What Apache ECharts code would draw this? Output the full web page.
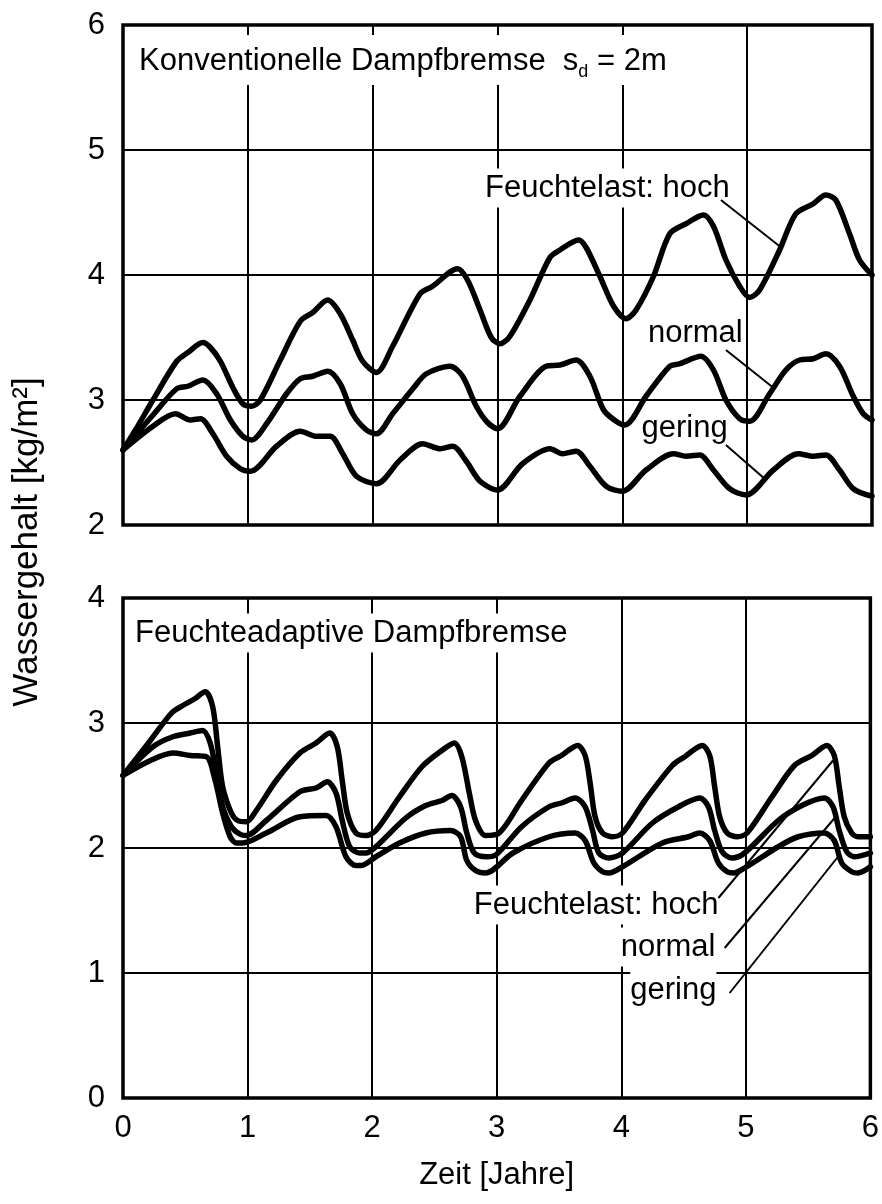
<!DOCTYPE html>
<html>
<head>
<meta charset="utf-8">
<script src="https://cdn.jsdelivr.net/npm/echarts@6/dist/echarts.min.js"></script>
<style>
  html, body { margin: 0; padding: 0; background: #fff; }
  #chart { width: 882px; height: 1204px; }
</style>
</head>
<body>
<div id="chart"></div>
<script>
// Wassergehalt über die Zeit, zwei Dampfbremsen, je drei Feuchtelasten
const FONT = '"Liberation Sans", Arial, Helvetica, sans-serif';
const FS = 31;

const xTicks = [0, 1, 2, 3, 4, 5, 6];
const yTicksTop = [2, 3, 4, 5, 6];
const yTicksBottom = [0, 1, 2, 3, 4];

// [Zeit in Jahren, Wassergehalt in kg/m²]
const konvHoch = [
  [0, 2.6], [0.1, 2.76], [0.24, 3.0], [0.43, 3.31], [0.52, 3.38], [0.64, 3.46], [0.7, 3.42],
  [0.78, 3.31], [0.88, 3.1], [0.96, 2.97], [1.03, 2.95], [1.1, 3.0], [1.26, 3.32], [1.42, 3.63],
  [1.52, 3.7], [1.64, 3.8], [1.74, 3.69], [1.84, 3.48], [1.92, 3.31], [2.03, 3.22], [2.16, 3.43],
  [2.38, 3.85], [2.48, 3.91], [2.68, 4.05], [2.76, 3.96], [2.86, 3.72], [2.95, 3.5], [3.02, 3.45],
  [3.1, 3.51], [3.26, 3.8], [3.42, 4.14], [3.5, 4.2], [3.65, 4.28], [3.71, 4.22], [3.82, 3.99],
  [3.93, 3.75], [4.03, 3.65], [4.11, 3.72], [4.25, 3.99], [4.38, 4.33], [4.51, 4.41], [4.65, 4.48],
  [4.73, 4.39], [4.83, 4.12], [4.94, 3.91], [5.02, 3.82], [5.1, 3.88], [5.26, 4.2], [5.39, 4.49],
  [5.53, 4.57], [5.63, 4.64], [5.71, 4.6], [5.82, 4.33], [5.9, 4.12], [6.0, 4.0]
];
const konvNormal = [
  [0, 2.6], [0.24, 2.88], [0.43, 3.09], [0.52, 3.11], [0.64, 3.16], [0.75, 3.05], [0.86, 2.84],
  [0.96, 2.71], [1.03, 2.68], [1.15, 2.81], [1.31, 3.05], [1.42, 3.17], [1.52, 3.19], [1.64, 3.23],
  [1.74, 3.13], [1.84, 2.89], [1.95, 2.76], [2.03, 2.73], [2.16, 2.89], [2.33, 3.1], [2.43, 3.21],
  [2.62, 3.27], [2.72, 3.19], [2.83, 2.95], [2.92, 2.82], [3.0, 2.77], [3.18, 3.03], [3.39, 3.27],
  [3.5, 3.28], [3.63, 3.32], [3.74, 3.19], [3.85, 2.92], [3.95, 2.83], [4.02, 2.8], [4.19, 3.03],
  [4.38, 3.27], [4.46, 3.29], [4.63, 3.35], [4.73, 3.24], [4.83, 3.0], [4.94, 2.85], [5.02, 2.83],
  [5.18, 3.05], [5.31, 3.24], [5.42, 3.32], [5.53, 3.33], [5.63, 3.37], [5.74, 3.27], [5.85, 3.03],
  [5.93, 2.89], [6.0, 2.84]
];
const konvGering = [
  [0, 2.6], [0.24, 2.79], [0.42, 2.89], [0.54, 2.84], [0.62, 2.85], [0.72, 2.73], [0.83, 2.55],
  [0.94, 2.45], [1.02, 2.43], [1.23, 2.63], [1.42, 2.75], [1.55, 2.71], [1.66, 2.71], [1.76, 2.57],
  [1.87, 2.39], [2.03, 2.33], [2.22, 2.52], [2.4, 2.65], [2.54, 2.61], [2.64, 2.63], [2.75, 2.51],
  [2.86, 2.35], [3.0, 2.28], [3.2, 2.49], [3.42, 2.61], [3.52, 2.57], [3.63, 2.59], [3.74, 2.47],
  [3.87, 2.31], [4.0, 2.27], [4.19, 2.44], [4.41, 2.57], [4.51, 2.55], [4.62, 2.56], [4.73, 2.44],
  [4.86, 2.29], [4.99, 2.24], [5.21, 2.44], [5.41, 2.57], [5.53, 2.55], [5.63, 2.56], [5.74, 2.44],
  [5.85, 2.29], [6.0, 2.23]
];

const adaptHoch = [
  [0, 2.58], [0.22, 2.86], [0.39, 3.08], [0.48, 3.14], [0.57, 3.19], [0.66, 3.25], [0.72, 3.13],
  [0.76, 2.81], [0.8, 2.49], [0.87, 2.28], [0.92, 2.22], [0.99, 2.21], [1.07, 2.3], [1.23, 2.54],
  [1.42, 2.76], [1.55, 2.84], [1.66, 2.92], [1.72, 2.81], [1.76, 2.54], [1.8, 2.28], [1.87, 2.12],
  [1.95, 2.1], [2.03, 2.14], [2.22, 2.41], [2.4, 2.65], [2.56, 2.78], [2.66, 2.84], [2.72, 2.73],
  [2.78, 2.44], [2.83, 2.22], [2.91, 2.1], [3.02, 2.12], [3.2, 2.38], [3.42, 2.68], [3.52, 2.74],
  [3.65, 2.82], [3.71, 2.74], [3.75, 2.52], [3.79, 2.25], [3.85, 2.12], [3.93, 2.09], [4.01, 2.12],
  [4.19, 2.38], [4.41, 2.66], [4.51, 2.73], [4.65, 2.82], [4.71, 2.74], [4.75, 2.49], [4.79, 2.25],
  [4.85, 2.12], [4.93, 2.09], [5.01, 2.12], [5.21, 2.41], [5.39, 2.66], [5.53, 2.74], [5.65, 2.82],
  [5.71, 2.74], [5.75, 2.49], [5.79, 2.25], [5.85, 2.12], [5.9, 2.09], [6.0, 2.09]
];
const adaptNormal = [
  [0, 2.58], [0.24, 2.81], [0.4, 2.89], [0.54, 2.92], [0.64, 2.94], [0.7, 2.84], [0.75, 2.6],
  [0.8, 2.33], [0.87, 2.17], [0.94, 2.11], [0.99, 2.1], [1.15, 2.22], [1.42, 2.45], [1.55, 2.48],
  [1.64, 2.53], [1.71, 2.44], [1.76, 2.22], [1.82, 2.01], [1.9, 1.96], [1.95, 1.96], [2.03, 2.01],
  [2.27, 2.24], [2.43, 2.34], [2.56, 2.38], [2.64, 2.42], [2.71, 2.33], [2.76, 2.12], [2.82, 1.96],
  [2.92, 1.93], [3.0, 1.95], [3.2, 2.17], [3.42, 2.33], [3.52, 2.36], [3.63, 2.4], [3.71, 2.33],
  [3.77, 2.14], [3.82, 1.96], [3.9, 1.92], [4.01, 1.96], [4.25, 2.2], [4.46, 2.33], [4.63, 2.4],
  [4.7, 2.33], [4.75, 2.14], [4.81, 1.97], [4.89, 1.92], [4.99, 1.96], [5.26, 2.22], [5.45, 2.34],
  [5.63, 2.4], [5.7, 2.33], [5.75, 2.14], [5.81, 1.97], [5.87, 1.93], [6.0, 1.96]
];
const adaptGering = [
  [0, 2.58], [0.22, 2.7], [0.4, 2.76], [0.54, 2.74], [0.67, 2.73], [0.74, 2.54], [0.8, 2.28],
  [0.86, 2.09], [0.91, 2.04], [0.96, 2.04], [1.15, 2.12], [1.42, 2.25], [1.63, 2.26], [1.71, 2.17],
  [1.79, 1.93], [1.87, 1.86], [1.91, 1.86], [2.03, 1.93], [2.22, 2.04], [2.43, 2.12], [2.63, 2.14],
  [2.71, 2.09], [2.76, 1.9], [2.83, 1.82], [2.91, 1.8], [3.13, 1.96], [3.42, 2.09], [3.63, 2.12],
  [3.71, 2.06], [3.78, 1.88], [3.85, 1.81], [3.9, 1.8], [4.01, 1.85], [4.33, 2.04], [4.54, 2.09],
  [4.63, 2.12], [4.71, 2.06], [4.78, 1.88], [4.85, 1.81], [4.9, 1.8], [4.99, 1.84], [5.26, 2.01],
  [5.42, 2.09], [5.63, 2.12], [5.71, 2.06], [5.77, 1.88], [5.85, 1.81], [5.9, 1.8], [6.0, 1.85]
];

const labelTexts = ['Feuchtelast: hoch', 'normal', 'gering'];
const titleTop = '{t|Konventionelle Dampfbremse  s}{s|d}{t| = 2m}';
const titleBottom = 'Feuchteadaptive Dampfbremse';
const xName = 'Zeit [Jahre]';
const yName = 'Wassergehalt [kg/m²]';

// Beschriftungen und Hinweislinien, in Achsenkoordinaten
const labelAnchors = {
  top: [[4.86, 4.696], [4.964, 3.536], [4.844, 2.776]],
  bottom: [[4.78, 1.544], [4.756, 1.208], [4.764, 0.864]]
};
const leaderLines = {
  top: [[[4.79, 4.6], [5.26, 4.23]], [[4.83, 3.4], [5.22, 3.09]], [[4.83, 2.64], [5.14, 2.37]]],
  bottom: [[[4.78, 1.6], [5.7, 2.7]], [[4.83, 1.2], [5.73, 2.26]], [[4.87, 0.84], [5.74, 1.93]]]
};
const titleAnchors = { top: [0.128, 5.72], bottom: [0.096, 3.72] };

const chart = echarts.init(document.getElementById('chart'), null, { renderer: 'canvas' });

const GRID_LEFT = 123, GRID_W = 749, GRID_H = 500;
const grids = [
  { left: GRID_LEFT, top: 25, width: GRID_W, height: GRID_H },
  { left: GRID_LEFT, top: 598, width: GRID_W, height: GRID_H }
].map(g => Object.assign(g, { show: true, borderColor: '#000', borderWidth: 3.5, backgroundColor: 'transparent' }));

const splitLine = { show: true, lineStyle: { color: '#000', width: 2 } };
const tickLabel = { color: '#000', fontSize: FS, fontFamily: FONT };

function xAxisFor(gridIndex, showLabels) {
  return {
    type: 'value', gridIndex, min: xTicks[0], max: xTicks[xTicks.length - 1], interval: 1,
    axisLine: { show: false }, axisTick: { show: false }, splitLine,
    axisLabel: Object.assign({ show: showLabels, margin: 15 }, tickLabel),
    name: showLabels ? xName : '', nameLocation: 'middle', nameGap: 62,
    nameTextStyle: { color: '#000', fontSize: FS, fontFamily: FONT }
  };
}
function yAxisFor(gridIndex, ticks) {
  return {
    type: 'value', gridIndex, min: ticks[0], max: ticks[ticks.length - 1], interval: 1,
    axisLine: { show: false }, axisTick: { show: false }, splitLine,
    axisLabel: Object.assign({ margin: 18, showMinLabel: true, showMaxLabel: true }, tickLabel)
  };
}

function curve(data, gi) {
  return {
    type: 'line', data, xAxisIndex: gi, yAxisIndex: gi, showSymbol: false, smooth: 0.3,
    lineStyle: { color: '#000', width: 5.5, join: 'round', cap: 'round' }, z: 3, silent: true, animation: false
  };
}
function leader(pts, gi) {
  return {
    type: 'line', data: pts, xAxisIndex: gi, yAxisIndex: gi, showSymbol: false,
    lineStyle: { color: '#000', width: 2 }, z: 4, silent: true, animation: false
  };
}

const series = [
  curve(konvHoch, 0), curve(konvNormal, 0), curve(konvGering, 0),
  curve(adaptHoch, 1), curve(adaptNormal, 1), curve(adaptGering, 1)
];
leaderLines.top.forEach(l => series.push(leader(l, 0)));
leaderLines.bottom.forEach(l => series.push(leader(l, 1)));

chart.setOption({
  animation: false,
  backgroundColor: '#fff',
  grid: grids,
  xAxis: [xAxisFor(0, false), xAxisFor(1, true)],
  yAxis: [yAxisFor(0, yTicksTop), yAxisFor(1, yTicksBottom)],
  series
});

// Texte mit weißem Hintergrund über dem Gitter, unter den Kurven
function textEl(text, pos, align) {
  return {
    type: 'text', x: pos[0], y: pos[1], z: 1, silent: true,
    style: {
      text, fill: '#000', fontSize: FS, fontFamily: FONT,
      align, textAlign: align, verticalAlign: 'middle', textVerticalAlign: 'middle',
      backgroundColor: '#fff', padding: [4, 0, 4, 0]
    }
  };
}

const graphics = [];
const topTitle = textEl(titleTop, chart.convertToPixel({ gridIndex: 0 }, titleAnchors.top), 'left');
topTitle.style.rich = {
  t: { fontSize: FS, fontFamily: FONT, lineHeight: 40, fill: '#000' },
  s: { fontSize: 18, fontFamily: FONT, lineHeight: 12, verticalAlign: 'bottom', fill: '#000' }
};
topTitle.style.padding = [6, 0, 4, 0];
graphics.push(topTitle);
graphics.push(textEl(titleBottom, chart.convertToPixel({ gridIndex: 1 }, titleAnchors.bottom), 'left'));

labelTexts.forEach((t, i) => {
  graphics.push(textEl(t, chart.convertToPixel({ gridIndex: 0 }, labelAnchors.top[i]), 'right'));
  graphics.push(textEl(t, chart.convertToPixel({ gridIndex: 1 }, labelAnchors.bottom[i]), 'right'));
});

graphics.push({
  type: 'text', x: 27, y: 542, rotation: Math.PI / 2, silent: true,
  style: {
    text: yName, fill: '#000', fontSize: 35, fontFamily: FONT,
    align: 'center', textAlign: 'center', verticalAlign: 'middle', textVerticalAlign: 'middle'
  }
});

chart.setOption({ graphic: graphics });
</script>
</body>
</html>
